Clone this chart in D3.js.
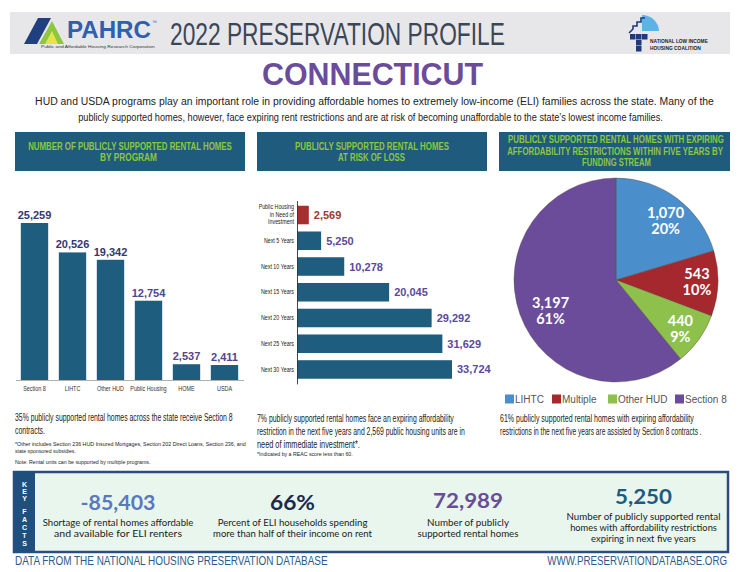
<!DOCTYPE html>
<html><head><meta charset="utf-8">
<script src="https://cdn.jsdelivr.net/npm/d3@7"></script>
<style>body{margin:0;background:#fff}svg{display:block}</style>
</head><body><svg id="c" width="740" height="572"></svg>
<script>
// ---------- DATA ----------
const programCats = ["Section 8", "LIHTC", "Other HUD", "Public Housing", "HOME", "USDA"];
const programVals = [25259, 20526, 19342, 12754, 2537, 2411];
const riskCats = ["Public Housing in Need of Investment", "Next 5 Years", "Next 10 Years", "Next 15 Years", "Next 20 Years", "Next 25 Years", "Next 30 Years"];
const riskVals = [2569, 5250, 10278, 20045, 29292, 31629, 33724];
const pieCats = ["LIHTC", "Multiple", "Other HUD", "Section 8"];
const pieVals = [1070, 543, 440, 3197];
const piePcts = ["20%", "10%", "9%", "61%"];
const factVals = ["-85,403", "66%", "72,989", "5,250"];
const factLines = [
  ["Shortage of rental homes affordable", "and available for ELI renters"],
  ["Percent of ELI households spending", "more than half of their income on rent"],
  ["Number of publicly", "supported rental homes"],
  ["Number of publicly supported rental", "homes with affordability restrictions", "expiring in next five years"]
];

// ---------- HELPERS ----------
const svg = d3.select("#c");
const NARROW = '"Liberation Sans Narrow","Liberation Sans",Arial,sans-serif';
const SANS = '"Liberation Sans",Arial,sans-serif';
const ROUND = 'Lato,"Open Sans",sans-serif';
// text drawn at (x,y); if len is given it is horizontally scaled (condensed) to that width
function T(str, x, y, o = {}) {
  const t = svg.append("text").attr("transform", `translate(${x},${y})`).text(str)
    .attr("font-size", o.size || 10).attr("fill", o.fill || "#222")
    .attr("text-anchor", o.anchor || "start").attr("font-weight", o.weight || "normal")
    .style("font-family", o.family || NARROW);
  if (o.len) {
    const w = t.node().getComputedTextLength();
    t.attr("transform", `translate(${x},${y}) scale(${o.len / w},1)`);
  }
  return t;
}
function squeeze(sel, k) {
  sel.each(function () {
    const w = this.getComputedTextLength();
    d3.select(this).attr("textLength", w * k).attr("lengthAdjust", "spacingAndGlyphs");
  });
}
const BAR = "#1f5d7e", HEAD = "#1f5b7d", GREEN = "#8dc63f", PURPLE = "#6a4c9b";

// ---------- HEADER ----------
svg.append("rect").attr("x", 10).attr("y", 12).attr("width", 720).attr("height", 42).attr("fill", "#e7e7e9");
svg.append("polygon").attr("points", "24,44 38,18 51,18 37,44").attr("fill", "#1f3f7f");
svg.append("polygon").attr("points", "39,44 52,21 64,44").attr("fill", "#8dc63f");
svg.append("polygon").attr("points", "45,44 52,31 58,44").attr("fill", "#e4e44c");
T("PAHRC", 67, 38, {size: 23, weight: "bold", fill: "#2f5fae", family: SANS, len: 84});
T("™", 152, 24, {size: 5, fill: "#2f5fae", family: SANS});
T("Public and Affordable Housing Research Corporation", 41, 47.5, {size: 4, fill: "#333", family: SANS, len: 114});
T("2022 PRESERVATION PROFILE", 170, 44.5, {size: 32, fill: "#3b4658", len: 335});
// NLIHC logo
svg.append("path").attr("d", "M642,31 L642,15 A17,17 0 0 1 659,31 Z").attr("fill", "#5bb3e6");
svg.append("polyline").attr("points", "629,33 633,29 633,26 637,26 637,22 641,22 641,18 645,18")
  .attr("fill", "none").attr("stroke", "#1f3a78").attr("stroke-width", 1.6);
[[630, 34], [636, 34], [636, 40], [642, 34], [636, 46]].forEach(p =>
  svg.append("rect").attr("x", p[0]).attr("y", p[1]).attr("width", 5.5).attr("height", 5.5).attr("fill", "#1f3a78"));
T("NATIONAL LOW INCOME", 650, 43, {size: 5.5, weight: "bold", fill: "#222", family: SANS, len: 58});
T("HOUSING COALITION", 650, 49.5, {size: 5.5, weight: "bold", fill: "#222", family: SANS, len: 51});

T("CONNECTICUT", 372.5, 85, {size: 32, weight: "bold", fill: PURPLE, anchor: "middle", len: 221});
T("HUD and USDA programs play an important role in providing affordable homes to extremely low-income (ELI) families across the state. Many of the", 374.5, 105, {size: 11.5, anchor: "middle", len: 679});
T("publicly supported homes, however, face expiring rent restrictions and are at risk of becoming unaffordable to the state’s lowest income families.", 370.5, 120.5, {size: 11.5, anchor: "middle", len: 585});

// ---------- PANEL HEADERS ----------
[[15, 230], [257, 230], [499, 231]].forEach(b =>
  svg.append("rect").attr("x", b[0]).attr("y", 132).attr("width", b[1]).attr("height", 39).attr("fill", HEAD));
const H = {size: 10.5, weight: "bold", fill: GREEN, anchor: "middle"};
T("NUMBER OF PUBLICLY SUPPORTED RENTAL HOMES", 130, 149.5, {...H, len: 204});
T("BY PROGRAM", 128.5, 160.5, {...H, len: 57});
T("PUBLICLY SUPPORTED RENTAL HOMES", 372, 149.5, {...H, len: 154});
T("AT RISK OF LOSS", 371.5, 160.5, {...H, len: 67});
T("PUBLICLY SUPPORTED RENTAL HOMES WITH EXPIRING", 616, 143, {...H, len: 216});
T("AFFORDABILITY RESTRICTIONS WITHIN FIVE YEARS BY", 615, 154.5, {...H, len: 216});
T("FUNDING STREAM", 616.5, 166, {...H, len: 69});

// ---------- CHART 1: vertical bars ----------
const x1 = d3.scaleBand().domain(programCats).range([15.5, 243.5]).paddingInner(0.28).paddingOuter(0.14);
const y1 = d3.scaleLinear().domain([0, 25259]).range([380, 223]);
const c1 = svg.append("g");
c1.selectAll("rect").data(programVals).join("rect")
  .attr("x", (d, i) => x1(programCats[i])).attr("width", x1.bandwidth())
  .attr("y", d => y1(d)).attr("height", d => y1(0) - y1(d)).attr("fill", BAR);
c1.selectAll("text.v").data(programVals).join("text").attr("class", "v")
  .attr("x", (d, i) => x1(programCats[i]) + x1.bandwidth() / 2).attr("y", d => y1(d) - 4)
  .attr("text-anchor", "middle").attr("font-size", 11).attr("font-weight", "bold")
  .attr("fill", (d, i) => i < 3 ? "#34386e" : "#4e4690").style("font-family", NARROW)
  .text(d => d3.format(",")(d));
const ax1 = svg.append("g").attr("transform", "translate(0,380)")
  .call(d3.axisBottom(x1).tickSize(0).tickPadding(6));
ax1.select(".domain").attr("stroke", "#9a9a9a").attr("stroke-width", 0.8);
ax1.selectAll("text").attr("font-size", 6.8).attr("fill", "#333").style("font-family", NARROW);
squeeze(ax1.selectAll(".tick text"), 0.8);

T("35% publicly supported rental homes across the state receive Section 8", 15, 421, {size: 10.5, len: 218});
T("contracts.", 15, 434, {size: 10.5, len: 30});
T("*Other includes Section 236 HUD Insured Mortgages, Section 202 Direct Loans, Section 236, and", 15, 445.5, {size: 6, len: 231});
T("state sponsored subsidies.", 15, 452.5, {size: 6, len: 61});
T("Note: Rental units can be supported by multiple programs.", 15, 463.5, {size: 6, len: 136});

// ---------- CHART 2: horizontal bars ----------
const y2 = d3.scaleBand().domain(riskCats).range([200.6, 383.9]).paddingInner(0.28).paddingOuter(0.2);
const x2 = d3.scaleLinear().domain([0, 33724]).range([297, 452]);
const c2 = svg.append("g");
c2.selectAll("rect").data(riskVals).join("rect")
  .attr("x", x2(0)).attr("y", (d, i) => y2(riskCats[i])).attr("height", y2.bandwidth())
  .attr("width", d => x2(d) - x2(0)).attr("fill", (d, i) => i === 0 ? "#a3302f" : BAR);
c2.selectAll("text.v").data(riskVals).join("text").attr("class", "v")
  .attr("x", d => x2(d) + 5).attr("y", (d, i) => y2(riskCats[i]) + y2.bandwidth() / 2 + 4)
  .attr("font-size", 11).attr("font-weight", "bold")
  .attr("fill", (d, i) => i === 0 ? "#9c3a30" : "#5a4a9c").style("font-family", NARROW)
  .text(d => d3.format(",")(d));
const ax2 = svg.append("g").attr("transform", "translate(297,0)")
  .call(d3.axisLeft(y2).tickSize(0).tickPadding(3));
ax2.select(".domain").attr("stroke", "#333").attr("stroke-width", 0.9);
ax2.selectAll("text").attr("font-size", 6.8).attr("fill", "#222").style("font-family", NARROW);
ax2.selectAll(".tick").filter(d => d === riskCats[0]).select("text").each(function () {
  const t = d3.select(this).text("");
  ["Public Housing", "in Need of", "Investment"].forEach((s, k) =>
    t.append("tspan").attr("x", -3).attr("dy", k === 0 ? "-0.85em" : "1.1em").text(s));
});
squeeze(ax2.selectAll(".tick").filter(d => d !== riskCats[0]).select("text"), 0.78);
squeeze(ax2.selectAll("tspan"), 0.78);

T("7% publicly supported rental homes face an expiring affordability", 257, 422, {size: 10.5, len: 197});
T("restriction in the next five years and 2,569 public housing units are in", 257, 435, {size: 10.5, len: 208});
T("need of immediate investment*.", 257, 447.5, {size: 10.5, len: 103});
T("*Indicated by a REAC score less than 60.", 257, 456, {size: 6, len: 96});

// ---------- CHART 3: pie ----------
const pieColors = ["#4a8fcb", "#a6282f", "#8dc14b", PURPLE];
const pie = d3.pie().sort(null).value(d => d)(pieVals);
const arc = d3.arc().innerRadius(0).outerRadius(102);
const lab = d3.arc().innerRadius(78).outerRadius(78);
const c3 = svg.append("g").attr("transform", "translate(616,280)");
c3.selectAll("path").data(pie).join("path").attr("d", arc)
  .attr("fill", (d, i) => pieColors[i]).attr("stroke", "#5a4a3a").attr("stroke-width", 0.4);
const off = [[3, 3], [3, -2], [1, 2], [8, 4]];
pie.forEach((d, i) => {
  const [cx, cy] = lab.centroid(d);
  const dx = off[i][0], dy = off[i][1];
  c3.append("text").attr("x", cx + dx).attr("y", cy + dy - 2).attr("text-anchor", "middle")
    .attr("font-size", 14.5).attr("font-weight", "bold").attr("fill", "#fff").style("font-family", ROUND)
    .text(d3.format(",")(pieVals[i]));
  c3.append("text").attr("x", cx + dx).attr("y", cy + dy + 14).attr("text-anchor", "middle")
    .attr("font-size", 14.5).attr("font-weight", "bold").attr("fill", "#fff").style("font-family", ROUND)
    .text(piePcts[i]);
});
const legX = [505, 552, 608, 675];
pieCats.forEach((c, i) => {
  svg.append("rect").attr("x", legX[i]).attr("y", 394.5).attr("width", 9).attr("height", 9).attr("fill", pieColors[i]);
  T(c, legX[i] + 10, 403, {size: 10, fill: "#555", family: SANS});
});
T("61%  publicly supported rental homes with expiring affordability", 500, 422, {size: 10.5, len: 194});
T("restrictions in the next five years are assisted by Section 8 contracts .", 500, 435, {size: 10.5, len: 202});

// ---------- KEY FACTS ----------
svg.append("rect").attr("x", 14).attr("y", 472).attr("width", 714).attr("height", 80)
  .attr("fill", "#e8f6ee").attr("stroke", "#2c4c7c").attr("stroke-width", 2.5);
svg.append("rect").attr("x", 14).attr("y", 472).attr("width", 21).attr("height", 80).attr("fill", "#1f4f7c");
"KEYFACTS".split("").forEach((ch, i) =>
  T(ch, 24.5, [487, 494, 501, 514, 522, 530, 538, 546][i], {size: 7, weight: "bold", fill: "#fff", anchor: "middle", family: SANS}));
const factX = [118, 292.5, 468, 643.5];
const factCol = ["#5a78c0", "#1c2a4a", PURPLE, "#1f5a80"];
const factBase = [510, 510, 508, 504];
const factW = [75, 45, 70, 57];
factVals.forEach((v, i) => {
  T(v, factX[i], factBase[i], {size: 21, weight: "bold", fill: factCol[i], anchor: "middle", family: ROUND, len: factW[i]});
});
const lineY = [[526, 537], [526, 537], [526, 537], [520, 531, 542]];
const lineW = [[151, 128], [150, 159], [82, 101], [154, 147, 105]];
factLines.forEach((ls, i) => ls.forEach((s, k) =>
  T(s, factX[i], lineY[i][k], {size: 10, fill: "#222", anchor: "middle", family: ROUND, len: lineW[i][k]})));

// ---------- FOOTER ----------
T("DATA FROM THE NATIONAL HOUSING PRESERVATION DATABASE", 15, 565, {size: 12.5, fill: "#2c5a8a", len: 313});
T("WWW.PRESERVATIONDATABASE.ORG", 727, 565, {size: 12.5, fill: "#2c5a8a", anchor: "end", len: 180});
</script></body></html>
